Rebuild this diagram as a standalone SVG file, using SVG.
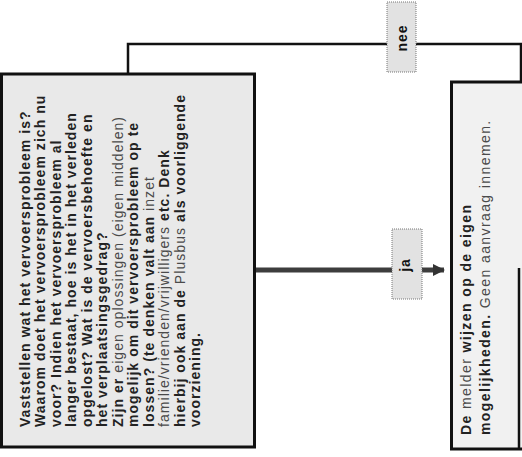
<svg xmlns="http://www.w3.org/2000/svg" width="522" height="457" viewBox="0 0 522 457">
<style>
.box{fill:#e9e9e9;stroke:#111;stroke-width:3}
.box2{fill:#f1f1f1;stroke:#111;stroke-width:3}
.t{font-family:"Liberation Sans",Arial,sans-serif;font-size:14px;font-weight:bold;letter-spacing:1.05px;fill:#222}
.t2{font-family:"Liberation Sans",Arial,sans-serif;font-size:14px;font-weight:bold;letter-spacing:1.4px;fill:#222}
.l{font-weight:normal;fill:#4a4a4a}
.conn{fill:none;stroke:#111;stroke-width:2.5}
.lab{fill:#e2e2e2;stroke:#777;stroke-width:1;stroke-dasharray:1 1}
.lt{font-family:"Liberation Sans",Arial,sans-serif;font-size:14px;font-weight:bold;letter-spacing:1px;fill:#111;text-anchor:middle}
</style>
<defs>
<marker id="ah" markerWidth="4" markerHeight="4" refX="2.2" refY="1.7" orient="auto" markerUnits="strokeWidth">
<path d="M0,0.5 L2.4,1.7 L0,2.9 Z" fill="#333"/>
</marker>
</defs>
<g id="connectors">
<path class="conn" d="M128,74 V44 H521 V82"/>
<line x1="255" y1="270" x2="444" y2="270" stroke="#3d3d3d" stroke-width="5" marker-end="url(#ah)"/>
<g id="label-nee">
<rect class="lab" x="387" y="2" width="29" height="70"/>
<text class="lt" transform="translate(407,38) rotate(-90)">nee</text>
</g>
<g id="label-ja">
<rect class="lab" x="392" y="229" width="30" height="70"/>
<text class="lt" transform="translate(410,265) rotate(-90)">ja</text>
</g>
</g>
<g id="node-vaststellen">
<rect class="box" x="1.5" y="74" width="253" height="373"/>
<text class="t" transform="translate(30,427) rotate(-90)">
<tspan x="0" y="0">Vaststellen wat het vervoersprobleem is?</tspan>
<tspan x="0" y="15.45">Waarom doet het vervoersprobleem zich nu</tspan>
<tspan x="0" y="30.9">voor? Indien het vervoersprobleem al</tspan>
<tspan x="0" y="46.35">langer bestaat, hoe is het in het verleden</tspan>
<tspan x="0" y="61.8">opgelost? Wat is de vervoersbehoefte en</tspan>
<tspan x="0" y="77.25">het verplaatsingsgedrag?</tspan>
<tspan x="0" y="92.7">Zijn er <tspan class="l">eigen oplossingen (eigen middelen)</tspan></tspan>
<tspan x="0" y="108.15">mogelijk om dit vervoersprobleem op te</tspan>
<tspan x="0" y="123.6">lossen? (te denken valt aan <tspan class="l">inzet</tspan></tspan>
<tspan x="0" y="139.05"><tspan class="l">familie/vrienden/vrijwilligers</tspan> etc. Denk</tspan>
<tspan x="0" y="154.5">hierbij ook aan de <tspan class="l">Plusbus</tspan> als voorliggende</tspan>
<tspan x="0" y="169.95">voorziening.</tspan>
</text>
</g>
<g id="node-melder">
<rect class="box2" x="451.5" y="82" width="80" height="367"/>
<line x1="519" y1="268" x2="519" y2="448" stroke="#111" stroke-width="2.5"/>
<text class="t2" transform="translate(471,435) rotate(-90)">
<tspan x="0" y="0">De <tspan class="l">melder</tspan> wijzen op de eigen</tspan>
<tspan x="0" y="19">mogelijkheden. <tspan class="l">Geen aanvraag innemen.</tspan></tspan>
</text>
</g>
</svg>
